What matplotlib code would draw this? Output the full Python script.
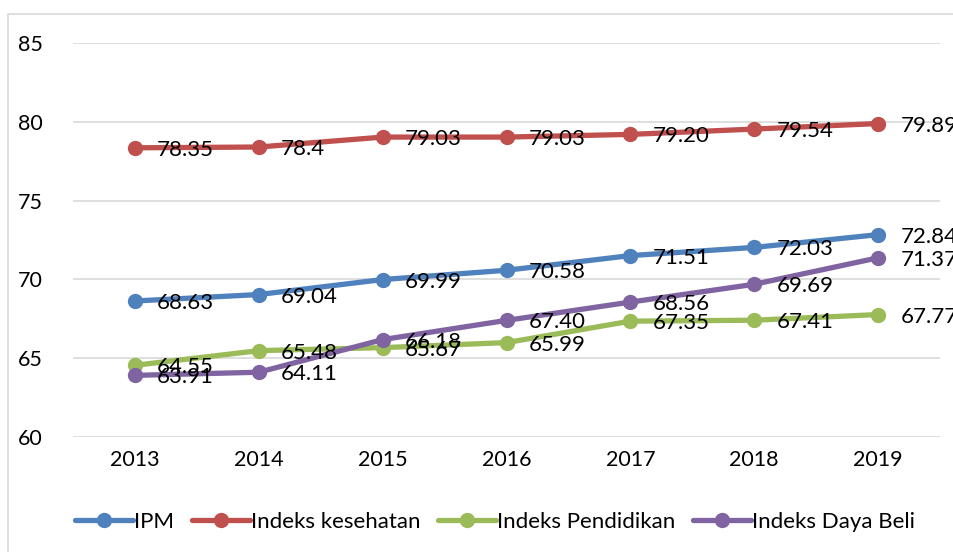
import matplotlib
matplotlib.use("Agg")
import matplotlib.pyplot as plt
from matplotlib.patches import Rectangle

years = ["2013", "2014", "2015", "2016", "2017", "2018", "2019"]
ipm = [68.63, 69.04, 69.99, 70.58, 71.51, 72.03, 72.84]
kesehatan = [78.35, 78.4, 79.03, 79.03, 79.20, 79.54, 79.89]
pendidikan = [64.55, 65.48, 65.67, 65.99, 67.35, 67.41, 67.77]
daya_beli = [63.91, 64.11, 66.18, 67.40, 68.56, 69.69, 71.37]

ipm_labels = ["68.63", "69.04", "69.99", "70.58", "71.51", "72.03", "72.84"]
kesehatan_labels = ["78.35", "78.4", "79.03", "79.03", "79.20", "79.54", "79.89"]
pendidikan_labels = ["64.55", "65.48", "65.67", "65.99", "67.35", "67.41", "67.77"]
daya_beli_labels = ["63.91", "64.11", "66.18", "67.40", "68.56", "69.69", "71.37"]

series = [
    ("IPM", ipm, ipm_labels, "#4F81BD"),
    ("Indeks kesehatan", kesehatan, kesehatan_labels, "#C0504D"),
    ("Indeks Pendidikan", pendidikan, pendidikan_labels, "#9BBB59"),
    ("Indeks Daya Beli", daya_beli, daya_beli_labels, "#8064A2"),
]

plt.rcParams["font.family"] = ["Lato", "DejaVu Sans"]

fig = plt.figure(figsize=(9.54, 5.52), dpi=100)
fig.patches.append(Rectangle((8 / 954, -0.1), 1.2, 1 - 14 / 552 + 0.1, transform=fig.transFigure,
                             fill=False, edgecolor="#d9d9d9", linewidth=1.2))
ax = fig.add_axes([73 / 954, 1 - 437 / 552, (940 - 73) / 954, (437 - 43) / 552])

x = list(range(len(years)))
for name, vals, labels, color in series:
    ax.plot(x, vals, color=color, linewidth=3.8, marker="o", markersize=10, label=name,
            solid_capstyle="round")
    for xi, v, lab in zip(x, vals, labels):
        ax.annotate(lab, (xi, v), xytext=(16, -1.5), textcoords="offset points",
                    ha="left", va="center", fontsize=16, color="black")

ax.set_xlim(-0.5, 6.5)
ax.set_ylim(60, 85)
ax.set_yticks([60, 65, 70, 75, 80, 85])
ax.set_xticks(x)
ax.set_xticklabels(years)
ax.yaxis.grid(True, color="#d9d9d9", linewidth=1.2)
ax.set_axisbelow(True)
for s in ax.spines.values():
    s.set_visible(False)
ax.tick_params(length=0, labelsize=15.5, pad=9)
ax.tick_params(axis="y", pad=22)

fig.legend(loc="center", bbox_to_anchor=(0.519, 1 - 522 / 552), ncol=4, frameon=False,
           fontsize=16, handlelength=2.6, columnspacing=0.8, handletextpad=0.05)

fig.savefig("out.png", dpi=100)
